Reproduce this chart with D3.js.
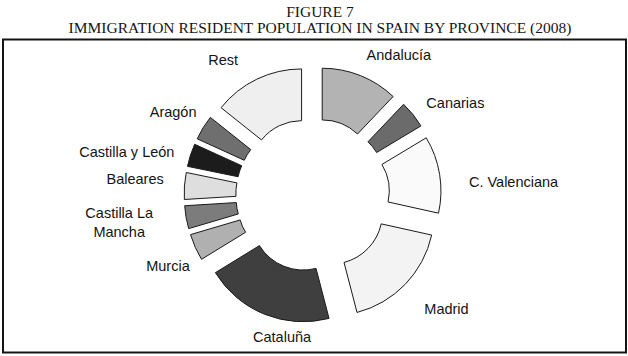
<!DOCTYPE html>
<html>
<head>
<meta charset="utf-8">
<script src="https://cdn.jsdelivr.net/npm/d3@7"></script>
<style>
  html, body { margin: 0; padding: 0; background: #ffffff; }
  svg { display: block; }
</style>
</head>
<body>
<svg id="chart" width="628" height="356"></svg>
<script>
// ---- data ----
const titleLines = ["FIGURE 7", "IMMIGRATION RESIDENT POPULATION IN SPAIN BY PROVINCE (2008)"];
const regions = ["Andalucía", "Canarias", "C. Valenciana", "Madrid", "Cataluña", "Murcia",
                 "Castilla La Mancha", "Baleares", "Castilla y León", "Aragón", "Rest"];
const shares  = [12.1, 4.3, 12.1, 17.5, 20.3, 4.2, 3.6, 4.2, 3.6, 3.9, 14.3];

// ---- styling / layout ----
const fills = ["#b3b3b3", "#6b6b6b", "#fafafa", "#f3f3f3", "#3f3f3f", "#b0b0b0",
               "#7c7c7c", "#dedede", "#1c1c1c", "#6f6f6f", "#efefef"];
const labelLines = {"Castilla La Mancha": ["Castilla La", "Mancha"]};
// fine nudges of each label from a point on the slice's mid-angle
const labelNudge = [[25,13],[14,11],[38,13],[15,-1],[31,-11],[6,4],[-31,-1],[-13,-4],[-29,8.5],[1,3],[-18,14]];

const svg = d3.select("#chart");
const cx = 312.7, cy = 195;
const outerR = 103, innerR = 51.3, explode = 25.6, labelR = 165;

// title
svg.append("g").selectAll("text").data(titleLines).join("text")
  .attr("x", 320)
  .attr("y", (d, i) => 17 + i * 16)
  .attr("text-anchor", "middle")
  .attr("font-family", "'Liberation Serif', 'Times New Roman', serif")
  .attr("font-size", 15.5)
  .attr("fill", "#151515")
  .text(d => d);

// frame
svg.append("rect")
  .attr("x", 3).attr("y", 39.5).attr("width", 623).attr("height", 313)
  .attr("fill", "none").attr("stroke", "#141414").attr("stroke-width", 2);

const pie = d3.pie().sort(null).value(d => d)(shares);
const arc = d3.arc().innerRadius(innerR).outerRadius(outerR);

const g = svg.append("g").attr("transform", `translate(${cx},${cy})`);

g.selectAll("path").data(pie).join("path")
  .attr("d", arc)
  .attr("transform", d => {
    const a = (d.startAngle + d.endAngle) / 2;
    return `translate(${explode * Math.sin(a)},${-explode * Math.cos(a)})`;
  })
  .attr("fill", (d, i) => fills[i])
  .attr("stroke", "#1a1a1a")
  .attr("stroke-width", 1)
  .attr("stroke-linejoin", "miter");

// labels
const lab = g.selectAll("text.lbl").data(pie).join("text")
  .attr("class", "lbl")
  .attr("text-anchor", "middle")
  .attr("font-family", "'Liberation Sans', Arial, sans-serif")
  .attr("font-size", 14.5)
  .attr("fill", "#141414")
  .attr("transform", (d, i) => {
    const a = (d.startAngle + d.endAngle) / 2;
    const x = labelR * Math.sin(a) + labelNudge[i][0];
    const y = -labelR * Math.cos(a) + labelNudge[i][1];
    return `translate(${x},${y})`;
  });

lab.each(function(d, i) {
  const lines = labelLines[regions[i]] || [regions[i]];
  const sel = d3.select(this);
  lines.forEach((t, k) => {
    sel.append("tspan")
      .attr("x", 0)
      .attr("y", (k - (lines.length - 1) / 2) * 18.4)
      .attr("dy", "0.35em")
      .text(t);
  });
});
</script>
</body>
</html>
